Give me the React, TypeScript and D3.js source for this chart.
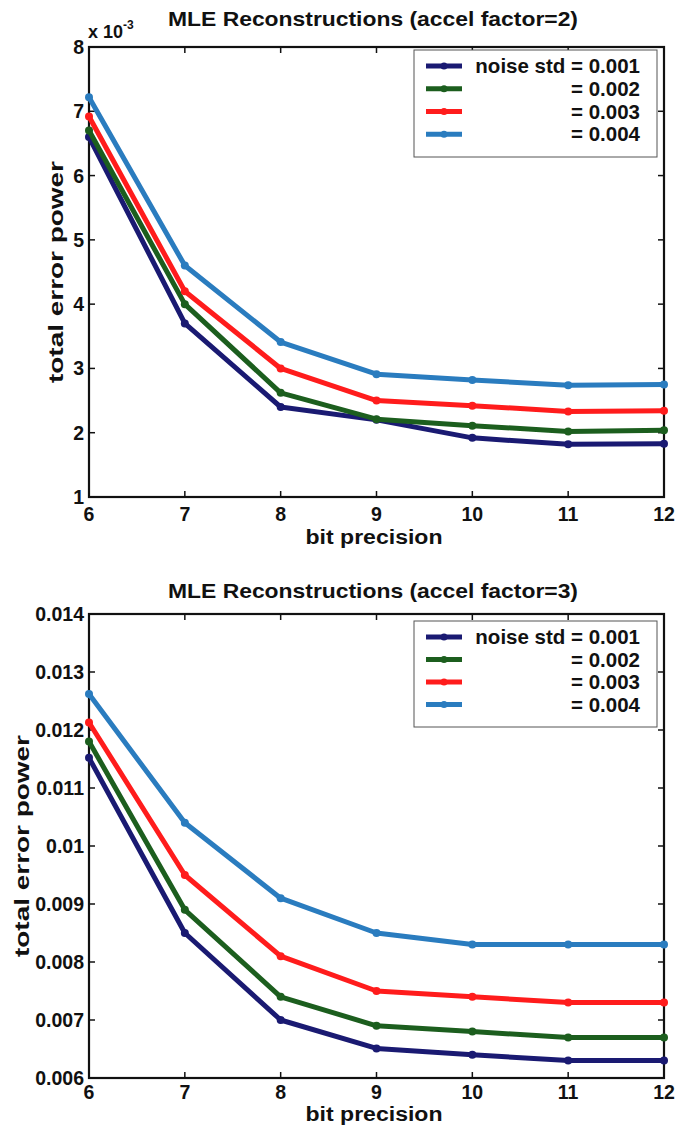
import React from "react";
import * as d3 from "d3";

const bits = [6, 7, 8, 9, 10, 11, 12];
const seriesLabels = ["noise std = 0.001", "= 0.002", "= 0.003", "= 0.004"];
const seriesColors = ["#1a1a72", "#1c5e1e", "#ff1c1c", "#2a7cbf"];

// accel factor = 2 (values x 1e-3)
const a2_n001 = [6.6, 3.7, 2.4, 2.2, 1.92, 1.82, 1.83];
const a2_n002 = [6.7, 4.0, 2.62, 2.21, 2.11, 2.02, 2.04];
const a2_n003 = [6.92, 4.2, 3.0, 2.5, 2.42, 2.33, 2.34];
const a2_n004 = [7.22, 4.6, 3.41, 2.91, 2.82, 2.74, 2.75];
const a2Ticks = [1, 2, 3, 4, 5, 6, 7, 8];

// accel factor = 3
const a3_n001 = [0.01152, 0.0085, 0.007, 0.00651, 0.0064, 0.0063, 0.0063];
const a3_n002 = [0.0118, 0.0089, 0.0074, 0.0069, 0.0068, 0.0067, 0.0067];
const a3_n003 = [0.01213, 0.0095, 0.0081, 0.0075, 0.0074, 0.0073, 0.0073];
const a3_n004 = [0.01262, 0.0104, 0.0091, 0.0085, 0.0083, 0.0083, 0.0083];
const a3Ticks = [0.006, 0.007, 0.008, 0.009, 0.01, 0.011, 0.012, 0.013, 0.014];

const FONT = "'Liberation Sans', Arial, sans-serif";

type ChartProps = {
  title: string;
  series: number[][];
  yTicks: number[];
  yFmt: (v: number) => string;
  top: number;
  bottom: number;
  yLabelX: number;
  legendTop: number;
  legendBottom: number;
  expLabel?: boolean;
  xLabelY: number;
  titleY: number;
  xTickDy: number;
};

function Chart(p: ChartProps) {
  const left = 89;
  const right = 664;
  const x = d3.scaleLinear().domain([6, 12]).range([left, right]);
  const y = d3
    .scaleLinear()
    .domain([p.yTicks[0], p.yTicks[p.yTicks.length - 1]])
    .range([p.bottom, p.top]);
  const line = d3
    .line<number>()
    .x((_, i) => x(bits[i]))
    .y((d) => y(d));
  const tk = 6;
  const lgLeft = 414;
  const lgRight = 657;
  const rowH = (p.legendBottom - p.legendTop - 16) / 4;
  return (
    <g fontFamily={FONT} fontWeight="bold">
      <text x={373} y={p.titleY} textAnchor="middle" fontSize={21} fill="#111" textLength={410} lengthAdjust="spacingAndGlyphs">
        {p.title}
      </text>
      {p.expLabel && (
        <text x={88} y={p.top - 9} fontSize={18} fill="#111">
          x 10
          <tspan dy={-9} fontSize={12}>
            -3
          </tspan>
        </text>
      )}
      <rect x={left} y={p.top} width={right - left} height={p.bottom - p.top} fill="white" stroke="#111" strokeWidth={2.2} />
      {bits.map((b) => (
        <g key={"xt" + b}>
          <line x1={x(b)} x2={x(b)} y1={p.bottom} y2={p.bottom - tk} stroke="#111" strokeWidth={1.5} />
          <line x1={x(b)} x2={x(b)} y1={p.top} y2={p.top + tk} stroke="#111" strokeWidth={1.5} />
          <text x={x(b)} y={p.bottom + p.xTickDy} textAnchor="middle" fontSize={19.5} fill="#111">
            {b}
          </text>
        </g>
      ))}
      {p.yTicks.map((t) => (
        <g key={"yt" + t}>
          <line x1={left} x2={left + tk} y1={y(t)} y2={y(t)} stroke="#111" strokeWidth={1.5} />
          <line x1={right} x2={right - tk} y1={y(t)} y2={y(t)} stroke="#111" strokeWidth={1.5} />
          <text x={left - 5} y={y(t) + 7} textAnchor="end" fontSize={19.5} fill="#111">
            {p.yFmt(t)}
          </text>
        </g>
      ))}
      <text x={374} y={p.xLabelY} textAnchor="middle" fontSize={20} fill="#111" textLength={137} lengthAdjust="spacingAndGlyphs">
        bit precision
      </text>
      <text
        transform={`translate(${p.yLabelX},${(p.top + p.bottom) / 2}) rotate(-90)`}
        textAnchor="middle"
        fontSize={20}
        fill="#111"
        textLength={222}
        lengthAdjust="spacingAndGlyphs"
      >
        total error power
      </text>
      {p.series.map((s, i) => (
        <g key={"s" + i}>
          <path d={line(s) || ""} fill="none" stroke={seriesColors[i]} strokeWidth={5} strokeLinejoin="round" />
          {s.map((v, j) => (
            <circle key={j} cx={x(bits[j])} cy={y(v)} r={4} fill={seriesColors[i]} />
          ))}
        </g>
      ))}
      <rect
        x={lgLeft}
        y={p.legendTop}
        width={lgRight - lgLeft}
        height={p.legendBottom - p.legendTop}
        fill="white"
        stroke="#555"
        strokeWidth={1}
      />
      {seriesLabels.map((lab, i) => {
        const cy = p.legendTop + 15 + rowH * i + 1;
        return (
          <g key={"lg" + i}>
            <line x1={426} x2={462} y1={cy} y2={cy} stroke={seriesColors[i]} strokeWidth={5} />
            <circle cx={444} cy={cy} r={3.5} fill={seriesColors[i]} />
            <text x={640} y={cy + 7} textAnchor="end" fontSize={20.5} fill="#111">
              {lab}
            </text>
          </g>
        );
      })}
    </g>
  );
}

export default function App() {
  return (
    <svg width={678} height={1130} style={{ position: "absolute", left: 0, top: 0, background: "white" }}>
      <rect width={678} height={1130} fill="white" />
      <Chart
        title="MLE Reconstructions (accel factor=2)"
        series={[a2_n001, a2_n002, a2_n003, a2_n004]}
        yTicks={a2Ticks}
        yFmt={(v) => String(v)}
        top={47}
        bottom={497}
        yLabelX={63}
        legendTop={50}
        legendBottom={157}
        expLabel
        xLabelY={544}
        titleY={26}
        xTickDy={24}
      />
      <Chart
        title="MLE Reconstructions (accel factor=3)"
        series={[a3_n001, a3_n002, a3_n003, a3_n004]}
        yTicks={a3Ticks}
        yFmt={(v) => d3.format("~g")(v)}
        top={614}
        bottom={1078}
        yLabelX={29}
        legendTop={621}
        legendBottom={727}
        xLabelY={1121}
        titleY={598}
        xTickDy={21}
      />
    </svg>
  );
}
